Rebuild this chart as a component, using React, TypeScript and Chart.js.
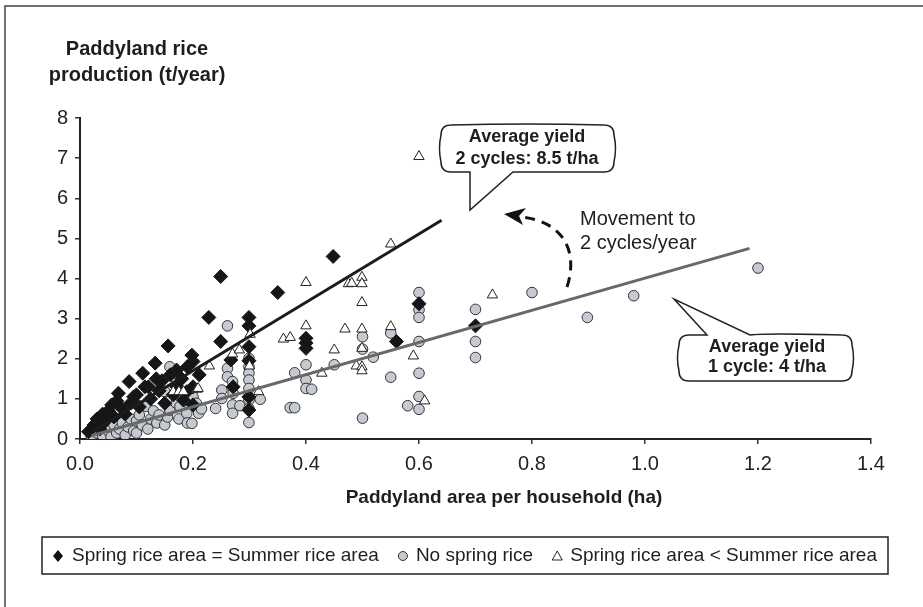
import React, { useEffect, useRef } from "react";
import { Chart, registerables } from "chart.js";

Chart.register(...registerables);

const FONT = '"Liberation Sans", Arial, Helvetica, sans-serif';

// Axis ticks
const xTickValues = [0, 0.2, 0.4, 0.6, 0.8, 1.0, 1.2, 1.4];
const yTickValues = [0, 1, 2, 3, 4, 5, 6, 7, 8];

// Spring rice area = Summer rice area (black diamonds)
const equalArea: [number, number][] = [
  [0.015, 0.18], [0.025, 0.35], [0.03, 0.5], [0.035, 0.25], [0.04, 0.62], [0.045, 0.45],
  [0.05, 0.7], [0.056, 0.85], [0.06, 0.55], [0.065, 0.95], [0.068, 1.14], [0.075, 0.75],
  [0.08, 0.62], [0.087, 1.43], [0.09, 0.9], [0.095, 1.05], [0.1, 1.1], [0.105, 0.8],
  [0.111, 1.64], [0.115, 1.3], [0.121, 1.3], [0.125, 1.0], [0.133, 1.89], [0.135, 1.5],
  [0.14, 1.2], [0.145, 1.45], [0.15, 0.89], [0.156, 2.32], [0.16, 1.6], [0.165, 1.1],
  [0.171, 1.3], [0.171, 1.72], [0.18, 1.5], [0.183, 0.97], [0.189, 1.18], [0.19, 1.8],
  [0.198, 2.09], [0.2, 1.93], [0.2, 1.3], [0.2, 0.85], [0.211, 1.6], [0.228, 3.03],
  [0.249, 4.05], [0.249, 2.43], [0.267, 1.97], [0.271, 1.3], [0.299, 3.03], [0.299, 2.82],
  [0.299, 2.3], [0.299, 1.95], [0.299, 1.05], [0.299, 0.72], [0.35, 3.65], [0.4, 2.51],
  [0.4, 2.39], [0.4, 2.26], [0.448, 4.55], [0.56, 2.43], [0.6, 3.37], [0.7, 2.82],
];

// No spring rice (grey circles)
const noSpring: [number, number][] = [
  [0.02, 0.05], [0.03, 0.15], [0.035, 0.3], [0.04, 0.08], [0.05, 0.2], [0.055, 0.05],
  [0.06, 0.35], [0.065, 0.15], [0.07, 0.25], [0.075, 0.4], [0.08, 0.1], [0.085, 0.3],
  [0.09, 0.5], [0.095, 0.2], [0.1, 0.45], [0.1, 0.15], [0.105, 0.6], [0.11, 0.35],
  [0.118, 0.81], [0.12, 0.25], [0.125, 0.5], [0.13, 0.7], [0.136, 0.4], [0.14, 0.6],
  [0.15, 0.35], [0.15, 1.18], [0.155, 0.55], [0.159, 0.72], [0.159, 1.8], [0.165, 1.55],
  [0.17, 0.9], [0.175, 0.5], [0.177, 0.81], [0.189, 0.64], [0.19, 0.4], [0.198, 0.39],
  [0.2, 1.22], [0.2, 1.05], [0.206, 0.81], [0.206, 0.89], [0.21, 0.64], [0.215, 0.75],
  [0.24, 0.76], [0.251, 1.22], [0.251, 1.01], [0.261, 1.76], [0.261, 1.55], [0.261, 2.82],
  [0.27, 1.43], [0.271, 1.14], [0.27, 0.85], [0.27, 0.64], [0.283, 0.83], [0.299, 2.01],
  [0.299, 1.8], [0.299, 1.64], [0.299, 1.47], [0.299, 1.26], [0.299, 0.97], [0.299, 0.76],
  [0.299, 0.41], [0.319, 0.99], [0.372, 0.78], [0.38, 0.78], [0.38, 1.65], [0.4, 1.85],
  [0.4, 1.47], [0.4, 1.26], [0.41, 1.24], [0.45, 1.85], [0.5, 2.55], [0.5, 2.24],
  [0.519, 2.04], [0.5, 0.52], [0.55, 2.64], [0.55, 1.54], [0.58, 0.83], [0.6, 3.65],
  [0.6, 3.22], [0.6, 3.03], [0.6, 2.43], [0.6, 1.64], [0.6, 1.06], [0.6, 0.74],
  [0.7, 3.23], [0.7, 2.43], [0.7, 2.03], [0.8, 3.65], [0.898, 3.03], [0.98, 3.57],
  [1.2, 4.26],
];

// Spring rice area < Summer rice area (open triangles)
const lessArea: [number, number][] = [
  [0.165, 1.18], [0.175, 1.18], [0.183, 1.18], [0.207, 1.24], [0.209, 1.26], [0.229, 1.82],
  [0.27, 2.12], [0.282, 2.22], [0.3, 1.82], [0.301, 2.61], [0.316, 1.18], [0.36, 2.49],
  [0.372, 2.53], [0.4, 3.9], [0.4, 2.82], [0.428, 1.64], [0.45, 2.22], [0.469, 2.74],
  [0.475, 3.87], [0.481, 3.88], [0.489, 1.82], [0.499, 4.03], [0.499, 3.87], [0.499, 3.4],
  [0.499, 2.74], [0.499, 2.26], [0.499, 1.8], [0.499, 1.7], [0.55, 4.86], [0.55, 2.8],
  [0.59, 2.07], [0.6, 7.04], [0.61, 0.95], [0.73, 3.59],
];

// Average-yield lines (end points)
const twoCycleLine: [number, number][] = [[0.02, 0.17], [0.64, 5.45]];
const oneCycleLine: [number, number][] = [[0.02, 0.08], [1.185, 4.75]];

const toXY = (arr: [number, number][]) => arr.map(([x, y]) => ({ x, y }));

function calloutPath(
  c: CanvasRenderingContext2D,
  x0: number, y0: number, x1: number, y1: number, r: number,
  side: "top" | "bottom", bx0: number, bx1: number, tx: number, ty: number
) {
  const my = (y0 + y1) / 2;
  c.beginPath();
  c.moveTo(x0 + r, y0);
  if (side === "top") {
    c.lineTo(bx0, y0);
    c.lineTo(tx, ty);
    c.lineTo(bx1, y0);
  }
  c.quadraticCurveTo((x0 + x1) / 2, y0 - 2, x1 - r, y0);
  c.quadraticCurveTo(x1, y0, x1, y0 + r);
  c.quadraticCurveTo(x1 + 3, my, x1, y1 - r);
  c.quadraticCurveTo(x1, y1, x1 - r, y1);
  if (side === "bottom") {
    c.lineTo(bx1, y1);
    c.lineTo(tx, ty);
    c.lineTo(bx0, y1);
  }
  c.lineTo(x0 + r, y1);
  c.quadraticCurveTo(x0, y1, x0, y1 - r);
  c.quadraticCurveTo(x0 - 3, my, x0, y0 + r);
  c.quadraticCurveTo(x0, y0, x0 + r, y0);
  c.closePath();
  c.fillStyle = "#fff";
  c.fill();
  c.strokeStyle = "#222";
  c.lineWidth = 1.5;
  c.stroke();
}

const annotations = {
  id: "annotations",
  afterDraw(chart: any) {
    const c: CanvasRenderingContext2D = chart.ctx;
    c.save();
    // outer frame
    c.strokeStyle = "#444";
    c.lineWidth = 1.5;
    c.beginPath();
    c.moveTo(5, 607);
    c.lineTo(5, 6);
    c.lineTo(923, 6);
    c.stroke();

    // y-axis title
    c.fillStyle = "#1e1e1e";
    c.textAlign = "center";
    c.textBaseline = "middle";
    c.font = `bold 20px ${FONT}`;
    c.fillText("Paddyland rice", 137, 49);
    c.fillText("production (t/year)", 137, 75);

    // x-axis title
    c.font = `bold 19px ${FONT}`;
    c.fillText("Paddyland area per household (ha)", 504, 498);

    // callouts
    calloutPath(c, 441, 125, 614, 172, 10, "bottom", 470, 513, 470, 210);
    calloutPath(c, 679, 335, 852, 381, 10, "top", 707, 750, 674, 299);
    c.fillStyle = "#1e1e1e";
    c.font = `bold 18px ${FONT}`;
    c.textAlign = "center";
    c.fillText("Average yield", 527, 137);
    c.fillText("2 cycles: 8.5 t/ha", 527, 159);
    c.fillText("Average yield", 767, 347);
    c.fillText("1 cycle: 4 t/ha", 767, 367);

    // movement text
    c.font = `20px ${FONT}`;
    c.textAlign = "left";
    c.fillText("Movement to", 580, 219);
    c.fillText("2 cycles/year", 580, 243);

    // dashed arrow
    c.strokeStyle = "#111";
    c.lineWidth = 3;
    c.setLineDash([10, 7]);
    c.beginPath();
    c.moveTo(567, 287);
    c.bezierCurveTo(579, 250, 562, 221, 521, 217);
    c.stroke();
    c.setLineDash([]);
    c.fillStyle = "#111";
    c.beginPath();
    c.moveTo(504, 214);
    c.lineTo(526, 208);
    c.lineTo(519, 216);
    c.lineTo(523, 225);
    c.closePath();
    c.fill();

    // legend
    c.strokeStyle = "#222";
    c.lineWidth = 1.5;
    c.strokeRect(42, 537, 846, 37);
    c.font = `19px ${FONT}`;
    c.fillStyle = "#1e1e1e";
    c.textAlign = "left";
    const ly = 556;
    const t1 = "Spring rice area = Summer rice area";
    const t2 = "No spring rice";
    const t3 = "Spring rice area < Summer rice area";
    const w1 = c.measureText(t1).width;
    const w2 = c.measureText(t2).width;
    const w3 = c.measureText(t3).width;
    const t1x = 72;
    const t3x = 877 - w3;
    const m3x = t3x - 13;
    const gap = (m3x - 6 - (t1x + w1) - (w2 + 19)) / 2;
    const m2x = t1x + w1 + gap + 6;
    const t2x = m2x + 13;
    c.fillText(t1, t1x, ly);
    c.fillText(t2, t2x, ly);
    c.fillText(t3, t3x, ly);
    // diamond
    c.beginPath();
    c.moveTo(58, ly - 6);
    c.lineTo(63, ly);
    c.lineTo(58, ly + 6);
    c.lineTo(53, ly);
    c.closePath();
    c.fillStyle = "#111";
    c.fill();
    // circle
    c.beginPath();
    c.arc(m2x, ly, 4.5, 0, Math.PI * 2);
    c.fillStyle = "#c5c9d1";
    c.fill();
    c.strokeStyle = "#333";
    c.lineWidth = 1;
    c.stroke();
    // triangle
    c.beginPath();
    c.moveTo(m3x, ly - 5);
    c.lineTo(m3x + 5, ly + 4);
    c.lineTo(m3x - 5, ly + 4);
    c.closePath();
    c.strokeStyle = "#222";
    c.stroke();
    c.restore();
  },
};

export default function App() {
  const ref = useRef<HTMLCanvasElement>(null);
  useEffect(() => {
    document.body.style.margin = "0";
    const canvas = ref.current!;
    const tickFont = { family: FONT, size: 20 };
    const chart = new Chart(canvas, {
      type: "scatter",
      data: {
        datasets: [
          {
            type: "line",
            label: "Average yield 2 cycles",
            data: toXY(twoCycleLine),
            borderColor: "#1c1c1c",
            borderWidth: 3,
            pointRadius: 0,
            showLine: true,
            fill: false,
            order: 0,
          } as any,
          {
            type: "line",
            label: "Average yield 1 cycle",
            data: toXY(oneCycleLine),
            borderColor: "#686868",
            borderWidth: 3,
            pointRadius: 0,
            showLine: true,
            fill: false,
            order: 0,
          } as any,
          {
            label: "Spring rice area < Summer rice area",
            data: toXY(lessArea),
            pointStyle: "triangle",
            pointRadius: 6,
            backgroundColor: "#ffffff",
            borderColor: "#222",
            borderWidth: 1,
            order: 1,
          },
          {
            label: "Spring rice area = Summer rice area",
            data: toXY(equalArea),
            pointStyle: "rectRot",
            pointRadius: 7,
            backgroundColor: "#161616",
            borderColor: "#161616",
            borderWidth: 1,
            order: 2,
          },
          {
            label: "No spring rice",
            data: toXY(noSpring),
            pointStyle: "circle",
            pointRadius: 5.3,
            backgroundColor: "#c5c9d1",
            borderColor: "#333",
            borderWidth: 1,
            order: 3,
          },
        ],
      },
      options: {
        responsive: false,
        animation: false,
        devicePixelRatio: 1,
        layout: { padding: { left: 0, right: 52, top: 118, bottom: 0 } },
        plugins: { legend: { display: false }, tooltip: { enabled: false } },
        scales: {
          x: {
            type: "linear",
            min: xTickValues[0],
            max: xTickValues[xTickValues.length - 1],
            afterBuildTicks: (scale: any) => {
              scale.ticks = xTickValues.map((v) => ({ value: v }));
            },
            afterFit: (scale: any) => {
              scale.height = 168;
            },
            ticks: {
              font: tickFont,
              color: "#222",
              padding: 8,
              maxRotation: 0,
              autoSkip: false,
              callback: (v: any) => Number(v).toFixed(1),
            },
            grid: { drawOnChartArea: false, drawTicks: true, tickLength: 5, color: "#333", lineWidth: 1.5 },
            border: { display: true, color: "#222", width: 2 },
          },
          y: {
            type: "linear",
            min: yTickValues[0],
            max: yTickValues[yTickValues.length - 1],
            afterBuildTicks: (scale: any) => {
              scale.ticks = yTickValues.map((v) => ({ value: v }));
            },
            afterFit: (scale: any) => {
              scale.width = 80;
            },
            ticks: {
              font: tickFont,
              color: "#222",
              padding: 7,
              autoSkip: false,
              callback: (v: any) => String(v),
            },
            grid: { drawOnChartArea: false, drawTicks: true, tickLength: 5, color: "#333", lineWidth: 1.5 },
            border: { display: true, color: "#222", width: 2 },
          },
        },
      },
      plugins: [annotations],
    });
    return () => chart.destroy();
  }, []);
  return (
    <div style={{ position: "absolute", left: 0, top: 0, width: 923, height: 607, background: "#fff" }}>
      <canvas ref={ref} width={923} height={607} style={{ display: "block" }} />
    </div>
  );
}
